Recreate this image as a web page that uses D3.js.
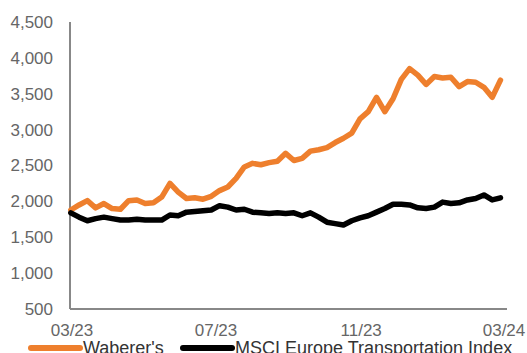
<!DOCTYPE html>
<head>
  <meta charset="utf-8">
  <script src="https://d3js.org/d3.v7.min.js"></script>
  <style type="text/css">
    body { margin:0; background:#fff; }
    .line { fill: none; stroke-width: 5.5; stroke-linejoin: round; stroke-linecap: round; }
    .tick-label { font-family: "Liberation Sans", Arial, sans-serif; font-size: 17px; fill: #666; }
    .legend-label { font-family: "Liberation Sans", Arial, sans-serif; font-size: 18px; fill: #333; }
  </style>
</head>
<body>
<script>
// weekly closes, rebased
var startDate = new Date(2023, 1, 28);
var waberers = [1880, 1950, 2010, 1910, 1970, 1900, 1890, 2010, 2020, 1970,
                1980, 2060, 2250, 2130, 2040, 2050, 2030, 2070, 2150, 2200,
                2320, 2480, 2530, 2510, 2540, 2560, 2670, 2570, 2600, 2700,
                2720, 2750, 2820, 2880, 2950, 3150, 3250, 3450, 3250, 3430,
                3700, 3850, 3760, 3630, 3740, 3720, 3730, 3600, 3670, 3660,
                3590, 3450, 3690];
var msci = [1840, 1780, 1730, 1760, 1780, 1760, 1740, 1740, 1750, 1740,
            1740, 1740, 1810, 1800, 1850, 1860, 1870, 1880, 1940, 1920,
            1880, 1890, 1850, 1840, 1830, 1840, 1830, 1840, 1800, 1840,
            1780, 1710, 1690, 1670, 1730, 1770, 1800, 1850, 1900, 1960,
            1960, 1950, 1910, 1900, 1920, 1990, 1970, 1980, 2020, 2040,
            2090, 2020, 2050];
var dates = waberers.map(function(d, i) { return d3.timeWeek.offset(startDate, i); });
var xTicks = [new Date(2023, 2, 1), new Date(2023, 6, 1), new Date(2023, 10, 1), new Date(2024, 2, 1)];
var xTickLabels = ["03/23", "07/23", "11/23", "03/24"];
var yTicks = [500, 1000, 1500, 2000, 2500, 3000, 3500, 4000, 4500];
var seriesNames = ["Waberer's", "MSCI Europe Transportation Index"];
var seriesColors = ["#ee7f2d", "#000000"];

var width = 527, height = 353;
var svg = d3.select("body").append("svg")
  .attr("width", width)
  .attr("height", height);

var xScale = d3.scaleTime()
  .domain([xTicks[0], xTicks[3]])
  .range([72, 504]);

var yScale = d3.scaleLinear()
  .domain([500, 4500])
  .range([309, 22]);

// axes lines
svg.append("line")
  .attr("x1", 70).attr("x2", 70)
  .attr("y1", yScale(4500)).attr("y2", yScale(500))
  .attr("stroke", "#888").attr("stroke-width", 2);
svg.append("line")
  .attr("x1", 70).attr("x2", 507)
  .attr("y1", yScale(500)).attr("y2", yScale(500))
  .attr("stroke", "#888").attr("stroke-width", 2);

svg.selectAll(".ylab")
  .data(yTicks)
  .enter().append("text")
  .attr("class", "tick-label")
  .attr("x", 53)
  .attr("y", function(d) { return yScale(d); })
  .attr("dy", "0.35em")
  .attr("text-anchor", "end")
  .text(function(d) { return d3.format(",")(d); });

svg.selectAll(".xlab")
  .data(xTicks)
  .enter().append("text")
  .attr("class", "tick-label")
  .attr("x", function(d) { return xScale(d); })
  .attr("y", 336)
  .attr("text-anchor", "middle")
  .text(function(d, i) { return xTickLabels[i]; });

var line = d3.line()
  .x(function(d, i) { return xScale(dates[i]); })
  .y(function(d) { return yScale(d); });

[waberers, msci].forEach(function(s, k) {
  svg.append("path")
    .datum(s)
    .attr("class", "line")
    .attr("stroke", seriesColors[k])
    .attr("d", line);
});

// legend
var legendX = [28, 180];
seriesNames.forEach(function(name, k) {
  svg.append("line")
    .attr("x1", legendX[k] + 3).attr("x2", legendX[k] + 52)
    .attr("y1", 348).attr("y2", 348)
    .attr("stroke", seriesColors[k])
    .attr("stroke-width", 6)
    .attr("stroke-linecap", "round");
  svg.append("text")
    .attr("class", "legend-label")
    .attr("x", legendX[k] + 55)
    .attr("y", 354)
    .text(name);
});
</script>
</body>
